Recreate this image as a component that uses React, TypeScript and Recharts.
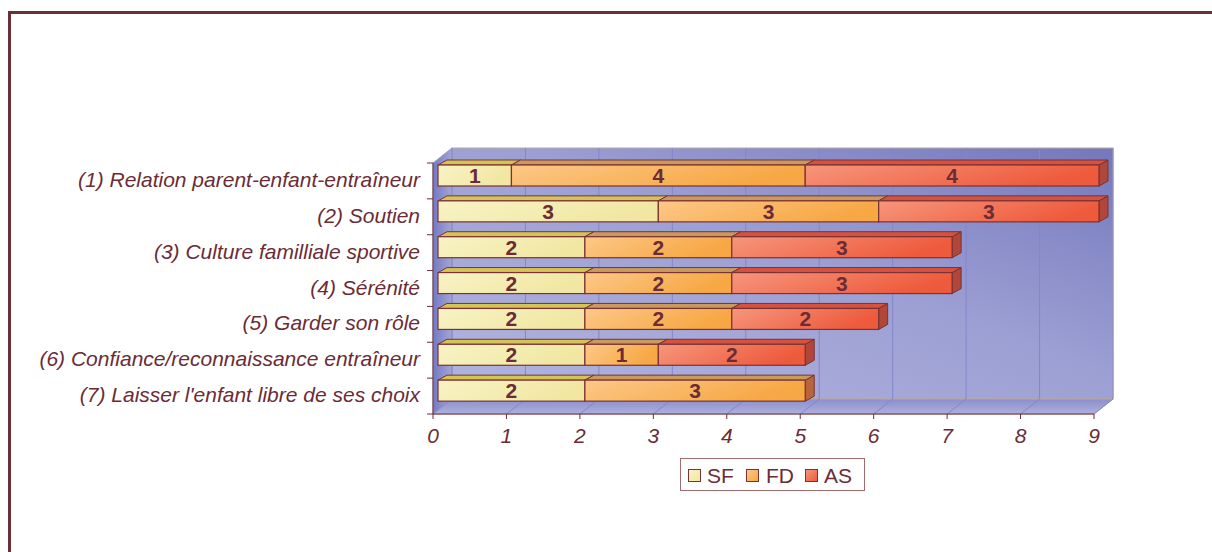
import React from "react";
import { BarChart, Bar, XAxis, YAxis, CartesianGrid, LabelList } from "recharts";

// Categories (top to bottom) and stacked counts per group
const categories = [
  "(1) Relation parent-enfant-entraîneur",
  "(2) Soutien",
  "(3) Culture familliale sportive",
  "(4) Sérénité",
  "(5) Garder son rôle",
  "(6) Confiance/reconnaissance entraîneur",
  "(7) Laisser l'enfant libre de ses choix",
];
const sfValues = [1, 3, 2, 2, 2, 2, 2];
const fdValues = [4, 3, 2, 2, 2, 1, 3];
const asValues = [4, 3, 3, 3, 2, 2, 0];
const seriesNames = ["SF", "FD", "AS"];
const xTicks = [0, 1, 2, 3, 4, 5, 6, 7, 8, 9];

const rows = categories.map((name, i) => ({
  name,
  SF: sfValues[i],
  FD: fdValues[i],
  AS: asValues[i],
}));

// Layout
const W = 1212;
const H = 552;
const PLOT = { left: 433, top: 163, width: 661, height: 251 };
const YAXIS_W = 400;
const XAXIS_H = 40;
const WALL_DX = 19;
const WALL_DY = 15;
const BAR_SHIFT_X = 5;
const BAR_SHIFT_Y = -5;
const BAR_DX = 9;
const BAR_DY = 5;
const BAND = PLOT.height / categories.length;

const TEXT = "#6b2c36";
const EDGE = "#7a3232";
const FONT = "'Liberation Sans', Arial, sans-serif";
const GRID = "#8387cb";
const WALL_EDGE = "#b9a79f";

const palette: Record<string, { a: string; b: string; top: string; side: string }> = {
  SF: { a: "#f8f3c6", b: "#f1e7a2", top: "#d4c455", side: "#c2ab4a" },
  FD: { a: "#fcc888", b: "#f7a743", top: "#c99a5c", side: "#b9653b" },
  AS: { a: "#f6967c", b: "#ee5a3c", top: "#d6523e", side: "#b0473a" },
};

function makeShape(key: string) {
  const c = palette[key];
  return (props: any) => {
    const { x, y, width, height } = props;
    if (!width || width <= 0) return <g />;
    const fx = x + BAR_SHIFT_X;
    const fy = y + BAR_SHIFT_Y;
    const top = `${fx},${fy} ${fx + BAR_DX},${fy - BAR_DY} ${fx + width + BAR_DX},${fy - BAR_DY} ${fx + width},${fy}`;
    const side = `${fx + width},${fy} ${fx + width + BAR_DX},${fy - BAR_DY} ${fx + width + BAR_DX},${fy + height - BAR_DY} ${fx + width},${fy + height}`;
    return (
      <g>
        <polygon points={side} fill={c.side} stroke={EDGE} strokeWidth={1} strokeLinejoin="round" />
        <polygon points={top} fill={c.top} stroke={EDGE} strokeWidth={1} strokeLinejoin="round" />
        <rect x={fx} y={fy} width={width} height={height} fill={`url(#front-${key})`} stroke={EDGE} strokeWidth={1.2} />
      </g>
    );
  };
}

const renderValue = (props: any) => {
  const { x, y, width, height, value } = props;
  if (!value) return null;
  return (
    <text
      x={x + width / 2 + BAR_SHIFT_X}
      y={y + height / 2 + BAR_SHIFT_Y}
      dy="0.36em"
      textAnchor="middle"
      fontFamily={FONT}
      fontSize={21}
      fontWeight="bold"
      fill={TEXT}
    >
      {value}
    </text>
  );
};

const CategoryTick = (props: any) => {
  const { y, payload, index } = props;
  const last = index === categories.length - 1;
  return (
    <g>
      <text
        x={PLOT.left - 13}
        y={y}
        dy={6}
        textAnchor="end"
        fontFamily={FONT}
        fontSize={21}
        fontStyle="italic"
        fill={TEXT}
      >
        {payload.value}
      </text>
      <line x1={PLOT.left - 6} x2={PLOT.left} y1={y - BAND / 2} y2={y - BAND / 2} stroke={TEXT} />
      {last && <line x1={PLOT.left - 6} x2={PLOT.left} y1={y + BAND / 2} y2={y + BAND / 2} stroke={TEXT} />}
    </g>
  );
};

const ValueTick = (props: any) => {
  const { x, payload } = props;
  return (
    <text
      x={x}
      y={PLOT.top + PLOT.height + 29}
      textAnchor="middle"
      fontFamily={FONT}
      fontSize={21}
      fontStyle="italic"
      fill={TEXT}
    >
      {payload.value}
    </text>
  );
};

// Vertical grid: line on the back wall plus its diagonal on the floor
const gridLine = (p: any) => {
  const x = p.x1;
  const bottom = PLOT.top + PLOT.height;
  return (
    <g key={p.key}>
      <line x1={x + WALL_DX} y1={PLOT.top - WALL_DY} x2={x + WALL_DX} y2={bottom - WALL_DY} stroke={GRID} strokeWidth={1} />
      <line x1={x} y1={bottom} x2={x + WALL_DX} y2={bottom - WALL_DY} stroke={GRID} strokeWidth={1} />
    </g>
  );
};

function Walls() {
  const L = PLOT.left;
  const T = PLOT.top;
  const R = PLOT.left + PLOT.width;
  const B = PLOT.top + PLOT.height;
  return (
    <svg width={W} height={H} style={{ position: "absolute", left: 0, top: 0 }}>
      <defs>
        <linearGradient id="wall" x1="0" y1="1" x2="1" y2="0">
          <stop offset="0%" stopColor="#b2b4df" />
          <stop offset="55%" stopColor="#9c9fd3" />
          <stop offset="100%" stopColor="#7478bb" />
        </linearGradient>
        <linearGradient id="side-wall" x1="0" y1="0" x2="1" y2="0">
          <stop offset="0%" stopColor="#7479c2" />
          <stop offset="100%" stopColor="#a3a6d8" />
        </linearGradient>
        <linearGradient id="floor" x1="0" y1="0" x2="0" y2="1">
          <stop offset="0%" stopColor="#8a8ecd" />
          <stop offset="100%" stopColor="#aeb0dc" />
        </linearGradient>
      </defs>
      <rect x={8} y={11} width={W - 8} height={3} fill="#6b2f35" />
      <rect x={8} y={11} width={3} height={H - 11} fill="#6b2f35" />
      <rect x={L + WALL_DX} y={T - WALL_DY} width={PLOT.width} height={PLOT.height} fill="url(#wall)" stroke={WALL_EDGE} strokeWidth={1} />
      <polygon
        points={`${L},${T} ${L + WALL_DX},${T - WALL_DY} ${L + WALL_DX},${B - WALL_DY} ${L},${B}`}
        fill="url(#side-wall)"
        stroke="#9a9ab8"
        strokeWidth={1}
      />
      <polygon
        points={`${L},${B} ${L + WALL_DX},${B - WALL_DY} ${R + WALL_DX},${B - WALL_DY} ${R},${B}`}
        fill="url(#floor)"
        stroke={WALL_EDGE}
        strokeWidth={1}
      />
    </svg>
  );
}

function LegendBox() {
  const items = [
    { key: seriesNames[0], sx: 688, tx: 707 },
    { key: seriesNames[1], sx: 746, tx: 766 },
    { key: seriesNames[2], sx: 805, tx: 824 },
  ];
  return (
    <svg width={W} height={H} style={{ position: "absolute", left: 0, top: 0, pointerEvents: "none" }}>
      <defs>
        {seriesNames.map((k) => (
          <linearGradient key={k} id={`legend-${k}`} x1="0" y1="0" x2="1" y2="1">
            <stop offset="0%" stopColor={palette[k].a} />
            <stop offset="100%" stopColor={palette[k].b} />
          </linearGradient>
        ))}
      </defs>
      <rect x={680.5} y={458.5} width={184} height={32} fill="#ffffff" stroke="#a26c6c" strokeWidth={1} />
      {items.map((it) => (
        <g key={it.key}>
          <rect x={it.sx + 0.5} y={469.5} width={12} height={12} fill={`url(#legend-${it.key})`} stroke={EDGE} strokeWidth={1} />
          <text x={it.tx} y={482.5} fontFamily={FONT} fontSize={21} fill={TEXT}>
            {it.key}
          </text>
        </g>
      ))}
    </svg>
  );
}

export default function App() {
  return (
    <div style={{ position: "absolute", left: 0, top: 0, width: W, height: H, background: "#ffffff" }}>
      <Walls />
      <div style={{ position: "absolute", left: 0, top: 0 }}>
        <BarChart
          width={W}
          height={H}
          data={rows}
          layout="vertical"
          margin={{
            top: PLOT.top,
            left: PLOT.left - YAXIS_W,
            right: W - PLOT.left - PLOT.width,
            bottom: H - PLOT.top - PLOT.height - XAXIS_H,
          }}
        >
          <defs>
            {seriesNames.map((k) => (
              <linearGradient key={k} id={`front-${k}`} x1="0" y1="0" x2="1" y2="0.3">
                <stop offset="0%" stopColor={palette[k].a} />
                <stop offset="100%" stopColor={palette[k].b} />
              </linearGradient>
            ))}
          </defs>
          <CartesianGrid horizontal={false} vertical={gridLine} />
          <XAxis
            type="number"
            domain={[0, 9]}
            ticks={xTicks}
            interval={0}
            height={XAXIS_H}
            axisLine={{ stroke: TEXT, strokeWidth: 1 }}
            tickLine={{ stroke: TEXT }}
            tickSize={5}
            tick={<ValueTick />}
          />
          <YAxis
            type="category"
            dataKey="name"
            width={YAXIS_W}
            interval={0}
            axisLine={{ stroke: TEXT, strokeWidth: 1 }}
            tickLine={false}
            tick={<CategoryTick />}
          />
          {seriesNames.map((k) => (
            <Bar key={k} dataKey={k} stackId="s" barSize={21} isAnimationActive={false} shape={makeShape(k)}>
              <LabelList dataKey={k} content={renderValue} />
            </Bar>
          ))}
        </BarChart>
      </div>
      <LegendBox />
    </div>
  );
}
